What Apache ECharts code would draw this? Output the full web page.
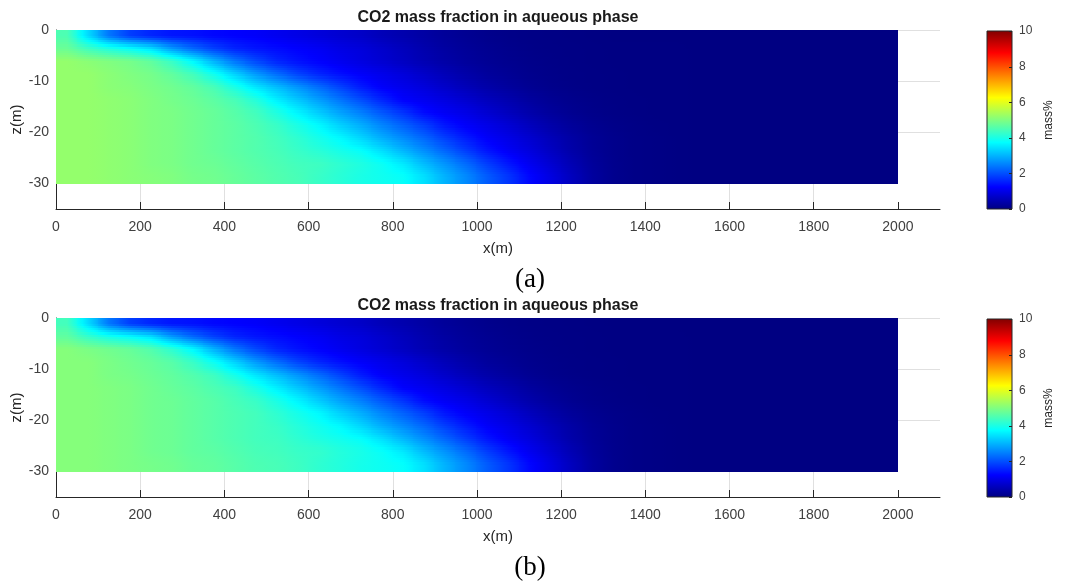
<!DOCTYPE html>
<html><head><meta charset="utf-8">
<script src="https://cdn.jsdelivr.net/npm/echarts@6/dist/echarts.min.js"></script>
<style>html,body{margin:0;padding:0;background:#fff;}#c{width:1065px;height:585px;}</style>
</head><body><div id="c"></div>
<script>
// ---- data ----
const xCenters = [25,75,125,175,225,275,325,375,425,475,525,575,625,675,725,775,825,875,925,975,
  1025,1075,1125,1175,1225,1275,1325,1375,1425,1475,1525,1575,1625,1675,1725,1775,1825,1875,1925,1975];
const zCenters = [-1.25,-3.75,-6.25,-8.75,-11.25,-13.75,-16.25,-18.75,-21.25,-23.75,-26.25,-28.75];
const xTicks = [0,200,400,600,800,1000,1200,1400,1600,1800,2000];
const zTicks = [-30,-20,-10,0];
const cbTicks = [0,2,4,6,8,10];
const panelTitle = 'CO2 mass fraction in aqueous phase';
const panelTags = ['(a)','(b)'];

// CO2 mass fraction (mass %) in panel (a), rows top to bottom, columns left to right
const fracA = [
 [4.5,3.4,2.4,1.85,1.6,1.45,1.4,1.3,1.25,1.2, 1.1,1.0,0.9,0.8,0.7,0.55,0.45,0.35,0.25,0.18, 0.12,0.08,0.06,0.05,0.04,0.03,0.02,0.02,0.02,0.02, 0.02,0.02,0.02,0.02,0.02,0.02,0.02,0.02,0.02,0.02],
 [4.8,4.4,4.1,3.85,3.5,2.8,2.3,1.9,1.6,1.45, 1.35,1.25,1.15,1.0,0.9,0.75,0.6,0.45,0.33,0.24, 0.17,0.12,0.08,0.06,0.05,0.04,0.03,0.03,0.03,0.03, 0.02,0.02,0.02,0.02,0.02,0.02,0.02,0.02,0.02,0.02],
 [5.2,5.1,5.0,4.9,4.7,4.3,3.7,3.0,2.4,1.95, 1.6,1.4,1.25,1.1,0.95,0.8,0.65,0.5,0.38,0.28, 0.2,0.14,0.1,0.07,0.05,0.04,0.03,0.03,0.03,0.03, 0.02,0.02,0.02,0.02,0.02,0.02,0.02,0.02,0.02,0.02],
 [5.2,5.2,5.1,5.0,4.9,4.7,4.4,3.9,3.3,2.75, 2.3,1.9,1.6,1.38,1.2,1.05,0.9,0.72,0.55,0.4, 0.28,0.2,0.13,0.09,0.06,0.05,0.04,0.03,0.03,0.03, 0.02,0.02,0.02,0.02,0.02,0.02,0.02,0.02,0.02,0.02],
 [5.2,5.2,5.1,5.05,4.95,4.85,4.7,4.45,4.0,3.5, 3.1,2.7,2.3,1.9,1.5,1.2,1.05,0.9,0.72,0.55, 0.4,0.28,0.18,0.11,0.07,0.05,0.04,0.03,0.03,0.03, 0.02,0.02,0.02,0.02,0.02,0.02,0.02,0.02,0.02,0.02],
 [5.2,5.2,5.15,5.1,5.0,4.9,4.8,4.65,4.45,4.1, 3.6,3.2,2.8,2.4,2.0,1.6,1.24,1.1,0.95,0.78, 0.6,0.45,0.3,0.19,0.12,0.08,0.05,0.04,0.03,0.03, 0.02,0.02,0.02,0.02,0.02,0.02,0.02,0.02,0.02,0.02],
 [5.2,5.2,5.15,5.1,5.0,4.95,4.85,4.75,4.6,4.4, 4.05,3.65,3.25,2.85,2.5,2.1,1.75,1.35,1.15,1.0, 0.8,0.6,0.42,0.27,0.16,0.1,0.06,0.04,0.03,0.03, 0.02,0.02,0.02,0.02,0.02,0.02,0.02,0.02,0.02,0.02],
 [5.2,5.2,5.15,5.1,5.0,4.95,4.85,4.75,4.65,4.5, 4.3,4.0,3.7,3.3,2.95,2.55,2.2,1.85,1.45,1.2, 1.02,0.82,0.6,0.4,0.25,0.15,0.09,0.06,0.04,0.03, 0.02,0.02,0.02,0.02,0.02,0.02,0.02,0.02,0.02,0.02],
 [5.2,5.2,5.15,5.1,5.0,4.95,4.85,4.75,4.65,4.55, 4.4,4.2,3.95,3.7,3.35,2.95,2.6,2.25,1.85,1.5, 1.2,1.0,0.78,0.55,0.35,0.2,0.12,0.07,0.05,0.03, 0.02,0.02,0.02,0.02,0.02,0.02,0.02,0.02,0.02,0.02],
 [5.2,5.2,5.15,5.1,5.0,4.95,4.85,4.75,4.65,4.55, 4.45,4.3,4.15,3.97,3.8,3.45,3.05,2.65,2.25,1.85, 1.45,1.15,0.92,0.65,0.4,0.22,0.12,0.07,0.05,0.03, 0.02,0.02,0.02,0.02,0.02,0.02,0.02,0.02,0.02,0.02],
 [5.2,5.2,5.15,5.1,5.0,4.95,4.85,4.8,4.7,4.6, 4.5,4.4,4.35,4.2,4.05,3.85,3.55,3.1,2.7,2.3, 1.85,1.45,1.1,0.8,0.5,0.26,0.13,0.07,0.05,0.03, 0.02,0.02,0.02,0.02,0.02,0.02,0.02,0.02,0.02,0.02],
 [5.2,5.2,5.15,5.1,5.05,5.0,4.9,4.85,4.75,4.65, 4.55,4.45,4.3,4.15,4.0,3.9,3.8,3.45,3.0,2.6, 2.15,1.75,1.3,0.95,0.6,0.3,0.14,0.07,0.05,0.03, 0.02,0.02,0.02,0.02,0.02,0.02,0.02,0.02,0.02,0.02]
];

// CO2 mass fraction (mass %) in panel (b)
const fracB = [
 [4.4,3.4,2.4,1.85,1.6,1.45,1.4,1.3,1.25,1.2, 1.1,1.0,0.9,0.8,0.7,0.55,0.45,0.35,0.25,0.18, 0.12,0.08,0.06,0.05,0.04,0.03,0.02,0.02,0.02,0.02, 0.02,0.02,0.02,0.02,0.02,0.02,0.02,0.02,0.02,0.02],
 [4.7,4.3,4.0,3.8,3.5,2.8,2.3,1.9,1.6,1.45, 1.35,1.25,1.15,1.0,0.9,0.75,0.6,0.45,0.33,0.24, 0.17,0.12,0.08,0.06,0.05,0.04,0.03,0.03,0.03,0.03, 0.02,0.02,0.02,0.02,0.02,0.02,0.02,0.02,0.02,0.02],
 [5.05,4.95,4.85,4.75,4.55,4.2,3.7,3.0,2.4,1.95, 1.6,1.4,1.25,1.1,0.95,0.8,0.65,0.5,0.38,0.28, 0.2,0.14,0.1,0.07,0.05,0.04,0.03,0.03,0.03,0.03, 0.02,0.02,0.02,0.02,0.02,0.02,0.02,0.02,0.02,0.02],
 [5.05,5.05,4.95,4.85,4.75,4.6,4.3,3.85,3.3,2.75, 2.3,1.9,1.6,1.38,1.2,1.05,0.9,0.72,0.55,0.4, 0.28,0.2,0.13,0.09,0.06,0.05,0.04,0.03,0.03,0.03, 0.02,0.02,0.02,0.02,0.02,0.02,0.02,0.02,0.02,0.02],
 [5.05,5.05,4.95,4.9,4.8,4.7,4.55,4.35,3.95,3.5, 3.1,2.7,2.3,1.9,1.5,1.2,1.05,0.9,0.72,0.55, 0.4,0.28,0.18,0.11,0.07,0.05,0.04,0.03,0.03,0.03, 0.02,0.02,0.02,0.02,0.02,0.02,0.02,0.02,0.02,0.02],
 [5.05,5.05,5.0,4.95,4.85,4.75,4.65,4.5,4.35,4.0, 3.6,3.2,2.8,2.4,2.0,1.6,1.24,1.1,0.95,0.78, 0.6,0.45,0.3,0.19,0.12,0.08,0.05,0.04,0.03,0.03, 0.02,0.02,0.02,0.02,0.02,0.02,0.02,0.02,0.02,0.02],
 [5.05,5.05,5.0,4.95,4.85,4.8,4.7,4.6,4.45,4.3, 4.0,3.65,3.25,2.85,2.5,2.1,1.75,1.35,1.15,1.0, 0.8,0.6,0.42,0.27,0.16,0.1,0.06,0.04,0.03,0.03, 0.02,0.02,0.02,0.02,0.02,0.02,0.02,0.02,0.02,0.02],
 [5.05,5.05,5.0,4.95,4.85,4.8,4.7,4.6,4.5,4.4, 4.2,3.95,3.7,3.3,2.95,2.55,2.2,1.85,1.45,1.2, 1.02,0.82,0.6,0.4,0.25,0.15,0.09,0.06,0.04,0.03, 0.02,0.02,0.02,0.02,0.02,0.02,0.02,0.02,0.02,0.02],
 [5.05,5.05,5.0,4.95,4.85,4.8,4.7,4.6,4.5,4.4, 4.3,4.1,3.9,3.7,3.35,2.95,2.6,2.25,1.85,1.5, 1.2,1.0,0.78,0.55,0.35,0.2,0.12,0.07,0.05,0.03, 0.02,0.02,0.02,0.02,0.02,0.02,0.02,0.02,0.02,0.02],
 [5.05,5.05,5.0,4.95,4.85,4.8,4.7,4.6,4.5,4.4, 4.35,4.2,4.05,3.92,3.78,3.45,3.05,2.65,2.25,1.85, 1.45,1.15,0.92,0.65,0.4,0.22,0.12,0.07,0.05,0.03, 0.02,0.02,0.02,0.02,0.02,0.02,0.02,0.02,0.02,0.02],
 [5.05,5.05,5.0,4.95,4.85,4.8,4.7,4.65,4.55,4.45, 4.4,4.3,4.25,4.1,3.98,3.82,3.55,3.1,2.7,2.3, 1.85,1.45,1.1,0.8,0.5,0.26,0.13,0.07,0.05,0.03, 0.02,0.02,0.02,0.02,0.02,0.02,0.02,0.02,0.02,0.02],
 [5.05,5.05,5.0,4.95,4.9,4.85,4.75,4.7,4.6,4.5, 4.45,4.35,4.2,4.08,3.95,3.87,3.78,3.45,3.0,2.6, 2.15,1.75,1.3,0.95,0.6,0.3,0.14,0.07,0.05,0.03, 0.02,0.02,0.02,0.02,0.02,0.02,0.02,0.02,0.02,0.02]
];

// ---- styling ----
const FONT = "'Liberation Sans', Arial, Helvetica, sans-serif";
const jet = ['#000080','#0000ff','#0080ff','#00ffff','#80ff80','#ffff00','#ff8000','#ff0000','#800000'];
const AX = '#262626';
const panels = [{top:30, h:179}, {top:318, h:179}];
const cMin = cbTicks[0], cMax = cbTicks[cbTicks.length - 1];
const STRIPS = 6;

function toCells(grid) {
  const out = [];
  grid.forEach((row, i) => row.forEach((v, j) => out.push([xCenters[j], zCenters[i], v])));
  return out;
}
const cellW = xCenters[1] - xCenters[0];
const cellH = zCenters[0] - zCenters[1];
function colorOf(v) { return echarts.color.lerp(Math.max(0, Math.min(1, (v - cMin) / (cMax - cMin))), jet); }

// smooth (interpolated) shading like MATLAB "shading interp": values sit at cell centres
function makeRender(grid) {
  const nr = grid.length, nc = grid[0].length;
  const val = (i, j) => grid[Math.max(0, Math.min(nr - 1, i))][Math.max(0, Math.min(nc - 1, j))];
  const bil = (fi, fj) => {
    const i0 = Math.floor(fi), j0 = Math.floor(fj), ti = fi - i0, tj = fj - j0;
    const top = val(i0, j0) * (1 - tj) + val(i0, j0 + 1) * tj;
    const bot = val(i0 + 1, j0) * (1 - tj) + val(i0 + 1, j0 + 1) * tj;
    return top * (1 - ti) + bot * ti;
  };
  return function (params, api) {
    const idx = params.dataIndex, i = Math.floor(idx / nc), j = idx % nc;
    const x = api.value(0), z = api.value(1);
    const left = api.coord([x - cellW / 2, z])[0], right = api.coord([x + cellW / 2, z])[0];
    const x0 = Math.floor(left), x1 = Math.ceil(right);
    const children = [];
    for (let s = 0; s < STRIPS; s++) {
      const zt = z + cellH / 2 - s * cellH / STRIPS, zb = zt - cellH / STRIPS;
      const y0 = Math.floor(api.coord([x, zt])[1]), y1 = Math.ceil(api.coord([x, zb])[1]);
      const fi = i - 0.5 + (s + 0.5) / STRIPS;
      const stops = [];
      for (let k = 0; k <= 4; k++) {
        const fj = j - 0.5 + k / 4;
        stops.push({offset: k / 4, color: colorOf(bil(fi, fj))});
      }
      children.push({type:'rect', shape:{x:x0, y:y0, width:x1 - x0, height:y1 - y0},
        style:{fill: new echarts.graphic.LinearGradient(0, 0, 1, 0, stops)}});
    }
    return {type:'group', children: children};
  };
}
// colour bar: gradient box with inward ticks on its right edge
function renderBar(params, api) {
  const a = api.coord([0, cMax]);
  const b = api.coord([1, cMin]);
  const children = [{type:'rect', shape:{x:a[0], y:a[1], width:b[0] - a[0], height:b[1] - a[1]},
    style:{fill: new echarts.graphic.LinearGradient(0, 1, 0, 0, jet.map((c, i) => ({offset: i / (jet.length - 1), color: c}))),
      stroke: AX, lineWidth: 1}}];
  cbTicks.forEach(t => {
    const p = api.coord([1, t]);
    const y = Math.round(p[1]) + 0.5;
    children.push({type:'line', shape:{x1:p[0] - 3, y1:y, x2:p[0], y2:y}, style:{stroke:AX, lineWidth:1}});
  });
  return {type:'group', children: children};
}

const grids = [], xAxes = [], yAxes = [], series = [], graphics = [];
panels.forEach((p, k) => {
  grids.push({left:56, top:p.top, width:884, height:p.h, containLabel:false, outerBoundsMode:'none'});
  grids.push({left:987, top:p.top + 1, width:25, height:p.h - 1, containLabel:false, outerBoundsMode:'none'});
  const gData = 2 * k, gBar = 2 * k + 1;
  xAxes.push({type:'value', gridIndex:gData, min:0, max:2100,
    name:'x(m)', nameLocation:'middle', nameGap:32, nameMoveOverlap:false,
    nameTextStyle:{fontSize:15, color:AX, fontFamily:FONT},
    axisLine:{show:true, onZero:false, lineStyle:{color:AX, width:1}},
    axisTick:{show:true, inside:true, length:7, customValues:xTicks, lineStyle:{color:AX}},
    axisLabel:{customValues:xTicks, fontSize:14, color:'#404040', fontFamily:FONT, margin:11, formatter: v => String(v)},
    splitLine:{show:true, showMaxLine:false, showMinLine:false, lineStyle:{color:'#e0e0e0'}}});
  yAxes.push({type:'value', gridIndex:gData, min:-35, max:0, splitNumber:4,
    name:'z(m)', nameLocation:'middle', nameGap:32, nameRotate:90, nameMoveOverlap:false,
    nameTextStyle:{fontSize:15, color:AX, fontFamily:FONT},
    axisLine:{show:true, onZero:false, lineStyle:{color:AX, width:1}},
    axisTick:{show:true, inside:true, length:7, customValues:zTicks, lineStyle:{color:AX}},
    axisLabel:{customValues:zTicks, fontSize:14, color:'#404040', fontFamily:FONT, margin:7, formatter: v => String(v)},
    splitLine:{show:true, showMinLine:false, lineStyle:{color:'#e0e0e0'}}});
  xAxes.push({type:'value', gridIndex:gBar, min:0, max:1, show:false});
  yAxes.push({type:'value', gridIndex:gBar, min:cMin, max:cMax, interval:2, position:'right',
    name:'mass%', nameLocation:'middle', nameGap:31, nameRotate:90,
    nameTextStyle:{fontSize:12, color:AX, fontFamily:FONT},
    axisLine:{show:false},
    axisTick:{show:false},
    axisLabel:{fontSize:12, color:'#404040', fontFamily:FONT, margin:7},
    splitLine:{show:false}});
  const grid = k === 0 ? fracA : fracB;
  series.push({type:'custom', xAxisIndex:gData, yAxisIndex:gData, renderItem:makeRender(grid),
    data: toCells(grid), silent:true, animation:false, z:2});
  graphics.push({type:'text', x:498, y:p.top - 12, style:{text:panelTitle, fontSize:16, fontWeight:'bold',
    fontFamily:FONT, fill:'#1a1a1a', align:'center', verticalAlign:'middle', textAlign:'center', textVerticalAlign:'middle'}});
  graphics.push({type:'text', x:530, y:p.top + 250, style:{text:panelTags[k], fontSize:27,
    fontFamily:"'Liberation Serif', 'Times New Roman', serif", fill:'#000', align:'center', verticalAlign:'middle', textAlign:'center', textVerticalAlign:'middle'}});
});
panels.forEach((p, k) => {
  series.push({type:'custom', xAxisIndex:2 * k + 1, yAxisIndex:2 * k + 1, renderItem:renderBar,
    data:[[0, 0]], silent:true, animation:false, z:1});
});

const chart = echarts.init(document.getElementById('c'), null, {renderer:'canvas'});
chart.setOption({
  animation:false,
  backgroundColor:'#fff',
  grid:grids, xAxis:xAxes, yAxis:yAxes,
  series:series,
  graphic:graphics
});
</script></body></html>
